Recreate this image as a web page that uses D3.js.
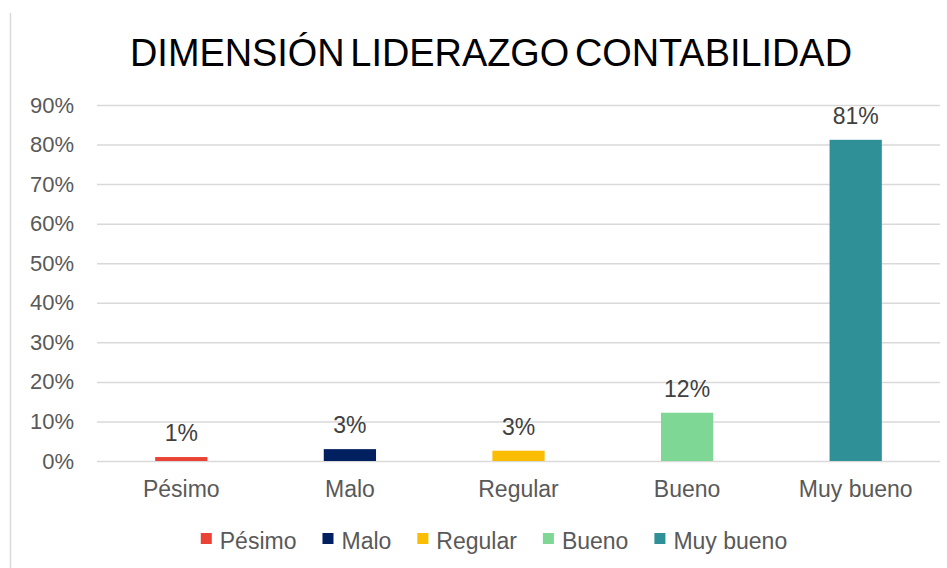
<!DOCTYPE html>
<html>
<head>
<meta charset="utf-8">
<script src="https://cdn.jsdelivr.net/npm/d3@7"></script>
<style>
  body { margin: 0; background: #fff; }
  text { font-family: Arial, "Liberation Sans", sans-serif; }
</style>
</head>
<body>
<div id="chart"></div>
<script>
// datos
const categorias = ['Pésimo', 'Malo', 'Regular', 'Bueno', 'Muy bueno'];
const valores = [0.010, 0.030, 0.026, 0.122, 0.812];
const colores = ['#EA4335', '#002060', '#FBBC04', '#7ED794', '#2F9098'];
const ticksY = [0, 0.1, 0.2, 0.3, 0.4, 0.5, 0.6, 0.7, 0.8, 0.9];
const titulo = 'DIMENSIÓN LIDERAZGO CONTABILIDAD';

const W = 947, H = 568;
const margin = { top: 105, right: 7, bottom: 107, left: 97 };

const svg = d3.select('#chart').append('svg')
  .attr('width', W)
  .attr('height', H);

// borde izquierdo del area del grafico
svg.append('line')
  .attr('x1', 10.5).attr('x2', 10.5)
  .attr('y1', 13).attr('y2', H)
  .attr('stroke', '#d9d9d9').attr('stroke-width', 1.5);

// titulo
svg.append('text')
  .attr('x', 491).attr('y', 66)
  .attr('text-anchor', 'middle')
  .attr('font-size', 39)
  .attr('word-spacing', -5)
  .attr('fill', '#000')
  .attr('textLength', 722)
  .attr('lengthAdjust', 'spacingAndGlyphs')
  .text(titulo);

// escalas
const x = d3.scaleBand()
  .domain(categorias)
  .range([margin.left, W - margin.right])
  .paddingInner(0.69)
  .paddingOuter(0.345);

const y = d3.scaleLinear()
  .domain([0, 0.9])
  .range([461, margin.top]);

// rejilla + eje Y
const yAxis = svg.append('g')
  .attr('transform', `translate(${margin.left},0)`)
  .call(d3.axisLeft(y)
    .tickValues(ticksY)
    .tickFormat(d3.format('.0%'))
    .tickSize(-(W - margin.right - margin.left))
    .tickPadding(23));
yAxis.select('.domain').remove();
yAxis.selectAll('.tick line')
  .attr('stroke', '#d9d9d9')
  .attr('stroke-width', 1.5);
yAxis.selectAll('.tick text')
  .attr('font-size', 22)
  .attr('fill', '#595959')
  .attr('font-family', 'Arial, "Liberation Sans", sans-serif');

// barras
svg.selectAll('.barra')
  .data(categorias)
  .join('rect')
  .attr('class', 'barra')
  .attr('x', d => x(d))
  .attr('width', x.bandwidth())
  .attr('y', (d, i) => y(valores[i]))
  .attr('height', (d, i) => y(0) - y(valores[i]))
  .attr('fill', (d, i) => colores[i]);

// etiquetas de datos
svg.selectAll('.etiqueta')
  .data(categorias)
  .join('text')
  .attr('class', 'etiqueta')
  .attr('x', d => x(d) + x.bandwidth() / 2)
  .attr('y', (d, i) => y(valores[i]) - 16)
  .attr('text-anchor', 'middle')
  .attr('font-size', 23)
  .attr('fill', '#404040')
  .text((d, i) => d3.format('.0%')(valores[i]));

// eje X (solo etiquetas)
const xAxis = svg.append('g')
  .attr('transform', `translate(0,${y(0)})`)
  .call(d3.axisBottom(x).tickSize(0).tickPadding(20));
xAxis.select('.domain').remove();
xAxis.selectAll('.tick text')
  .attr('font-size', 23)
  .attr('fill', '#595959')
  .attr('font-family', 'Arial, "Liberation Sans", sans-serif');

// leyenda
const leyenda = svg.append('g');
let cx = 0;
categorias.forEach((c, i) => {
  const g = leyenda.append('g').attr('transform', `translate(${cx},0)`);
  g.append('rect')
    .attr('x', 0).attr('y', -11)
    .attr('width', 11).attr('height', 11)
    .attr('fill', colores[i]);
  const t = g.append('text')
    .attr('x', 19).attr('y', 5)
    .attr('font-size', 23)
    .attr('fill', '#595959')
    .text(c);
  cx += 19 + t.node().getComputedTextLength() + 26;
});
const anchoLeyenda = cx - 26;
leyenda.attr('transform', `translate(${494 - anchoLeyenda / 2},544)`);
</script>
</body>
</html>
